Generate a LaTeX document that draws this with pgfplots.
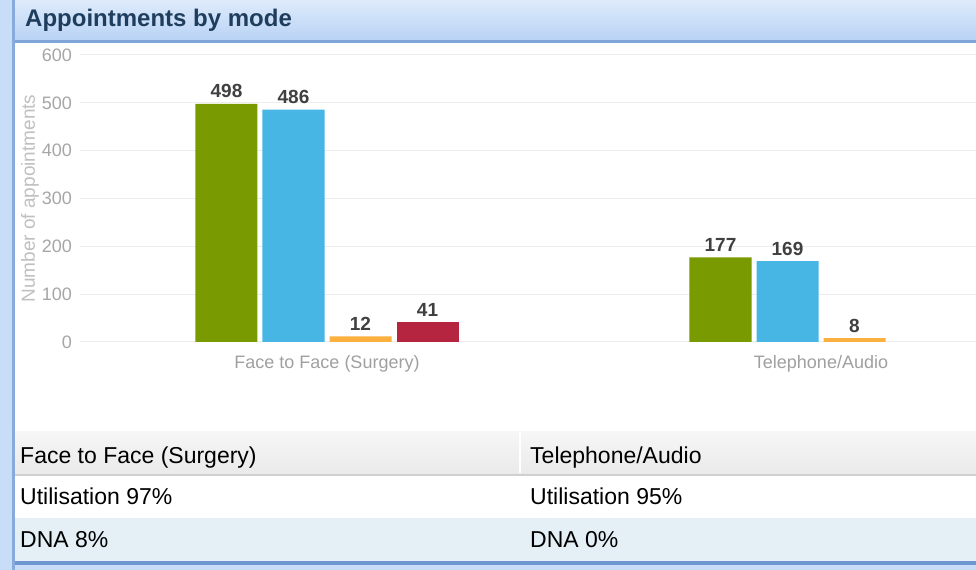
\documentclass[border=0pt]{standalone}
\usepackage{pgfplots}
\pgfplotsset{compat=1.18}
\usepackage{fontspec}
\setmainfont{Liberation Sans}
\definecolor{cgreen}{HTML}{7A9A01}
\definecolor{cblue}{HTML}{47B6E5}
\definecolor{corange}{HTML}{FBB040}
\definecolor{cred}{HTML}{B5253F}
\definecolor{leftstrip}{HTML}{C8DDF7}
\definecolor{leftline}{HTML}{86ABDC}
\definecolor{titletop}{HTML}{DFEBFB}
\definecolor{titlebot}{HTML}{B8D3F5}
\definecolor{titleline}{HTML}{7EA6D9}
\definecolor{titletext}{HTML}{1F3E5E}
\definecolor{hdrtop}{HTML}{F6F6F6}
\definecolor{hdrbot}{HTML}{EAEAEA}
\definecolor{hdrline}{HTML}{D0D0D0}
\definecolor{row2}{HTML}{E5EFF6}
\definecolor{botline}{HTML}{6F97CF}
\definecolor{gridc}{HTML}{EDEDED}
\definecolor{tickc}{HTML}{A6A6A6}
\definecolor{ylabc}{HTML}{C0C0C0}
\definecolor{catc}{HTML}{A0A0A0}
\definecolor{valc}{HTML}{404040}
\begin{document}
\begin{tikzpicture}[x=1bp,y=1bp]
\useasboundingbox (0,0) rectangle (976,570);
\fill[white] (0,0) rectangle (976,570);
\fill[leftstrip] (0,0) rectangle (13,570);
\fill[leftline] (12,0) rectangle (15,570);
\shade[top color=titletop, bottom color=titlebot] (15,530) rectangle (976,570);
\fill[titleline] (15,527) rectangle (976,530);
\node[anchor=base west, font=\fontsize{24bp}{28bp}\selectfont\bfseries, text=titletext, inner sep=0] at (25,543) {Appointments by mode};
% table
\shade[top color=hdrtop, bottom color=hdrbot] (15,96) rectangle (976,138);
\fill[hdrline] (15,94) rectangle (976,96);
\draw[white, line width=1.5bp] (520,97) -- (520,138);
\fill[row2] (15,9) rectangle (976,52);
\fill[botline] (15,5) rectangle (976,9);
\fill[leftstrip] (15,0) rectangle (976,5);
\begin{scope}[every node/.style={anchor=base west, inner sep=0, font=\fontsize{23bp}{27bp}\selectfont, text=black}]
\node at (20,106) {Face to Face (Surgery)};
\node at (530,106) {Telephone/Audio};
\node at (20,65) {Utilisation 97\%};
\node at (530,65) {Utilisation 95\%};
\node at (20,22) {DNA 8\%};
\node at (530,22) {DNA 0\%};
\end{scope}
\begin{axis}[
  at={(80bp,228bp)}, anchor=south west,
  scale only axis, width=896bp, height=287bp,
  xmin=-0.5, xmax=1.3138, ymin=0, ymax=600,
  ytick={0,100,...,600},
  xtick={0,1}, xticklabels={Face to Face (Surgery), Telephone/Audio},
  axis line style={draw=none},
  major tick length=0pt,
  ymajorgrids, grid style={color=gridc, line width=1bp},
  /pgf/number format/assume math mode=true,
  yticklabel style={font=\fontsize{18bp}{21bp}\selectfont, text=tickc, anchor=east, inner sep=0pt, xshift=-8bp},
  xticklabel style={font=\fontsize{18bp}{21bp}\selectfont, text=catc, anchor=base, inner sep=0pt, yshift=-27bp},
  ylabel={Number of appointments},
  ylabel style={at={(rel axis cs:0,0.5)}, anchor=center, yshift=50bp, font=\fontsize{19bp}{22bp}\selectfont, text=ylabc, inner sep=0pt},
  ybar, bar width=62bp,
  nodes near coords,
  nodes near coords style={font=\fontsize{19bp}{22bp}\selectfont\bfseries, text=valc, anchor=base, yshift=6bp, inner sep=0pt},
  clip=false,
]
\addplot[fill=cgreen, draw=none, bar shift=-100.5bp] coordinates {(0,498) (1,177)};
\addplot[fill=cblue, draw=none, bar shift=-33.5bp] coordinates {(0,486) (1,169)};
\addplot[fill=corange, draw=none, bar shift=33.5bp] coordinates {(0,12) (1,8)};
\addplot[fill=cred, draw=none, bar shift=100.5bp] coordinates {(0,41)};
\end{axis}
\end{tikzpicture}
\end{document}
